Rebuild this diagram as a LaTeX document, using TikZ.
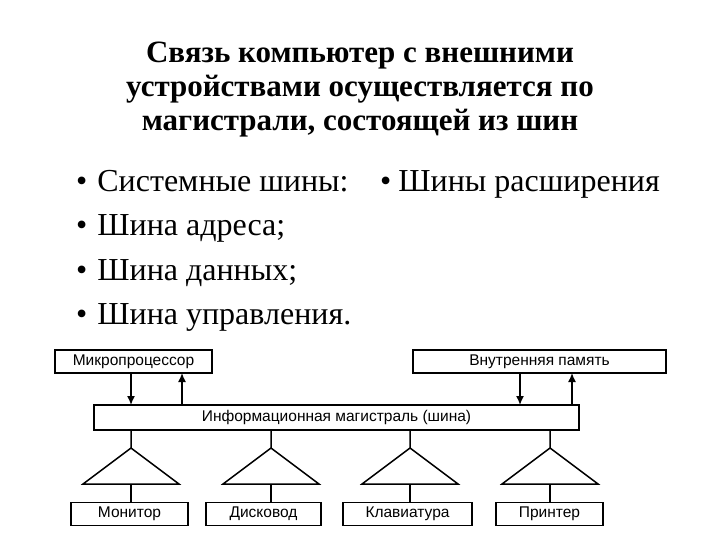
\documentclass[tikz,border=0pt]{standalone}
\usepackage{fontspec}
\usetikzlibrary{arrows.meta}
\setmainfont{Liberation Serif}
\newfontfamily\dsans{Liberation Sans}
\begin{document}
\begin{tikzpicture}[x=1pt,y=-1pt,
  box/.style={draw,line width=1.5pt,inner sep=0pt,font=\dsans\fontsize{15.5}{17}\selectfont},
  ln/.style={line width=1.5pt},
  ar/.style={line width=1.5pt,-{Latex[length=9pt,width=8pt]}}]
\useasboundingbox (0,0) rectangle (720,540);
\node[font=\bfseries\fontsize{31}{34}\selectfont,align=center] (title) at (360,90)
  {Связь компьютер с внешними\\устройствами осуществляется по\\магистрали, состоящей из шин};
\begin{scope}[every node/.style={anchor=base west,font=\fontsize{32}{36}\selectfont,inner sep=0pt}]
\node (b1) at (76,192) {•\hspace{10pt}Системные шины:};
\node (b2) at (76,236) {•\hspace{10pt}Шина адреса;};
\node (b3) at (76,280) {•\hspace{10pt}Шина данных;};
\node (b4) at (76,324) {•\hspace{10pt}Шина управления.};
\node (b5) at (380,192) {•\hspace{7pt}Шины расширения};
\end{scope}
\node[box,minimum width=157,minimum height=23] (mp) at (133.5,361.5) {Микропроцессор};
\node[box,minimum width=253,minimum height=23] (mem) at (539.5,361.5) {Внутренняя память};
\node[box,minimum width=485,minimum height=25] (bus) at (336.5,417.5) {Информационная магистраль (шина)};
\draw[ar] (131,373) -- (131,405);
\draw[ar] (182,405) -- (182,373);
\draw[ar] (520,373) -- (520,405);
\draw[ar] (572,405) -- (572,373);
\foreach \n/\x/\bx/\w/\t in {m/131/129.5/117/Монитор,d/271/263.5/115/Дисковод,k/410/407.5/129/Клавиатура,p/550/549.5/107/Принтер}{
  \node[box,minimum width=\w,minimum height=23] (\n) at (\bx,514) {\t};
  \draw[ln,line join=miter] (\x,430) -- (\x,448) -- (\x-48,484) -- (\x+48,484) -- (\x,448);
  \draw[ln] (\x,484) -- (\x,502.5);
}
\end{tikzpicture}
\end{document}
